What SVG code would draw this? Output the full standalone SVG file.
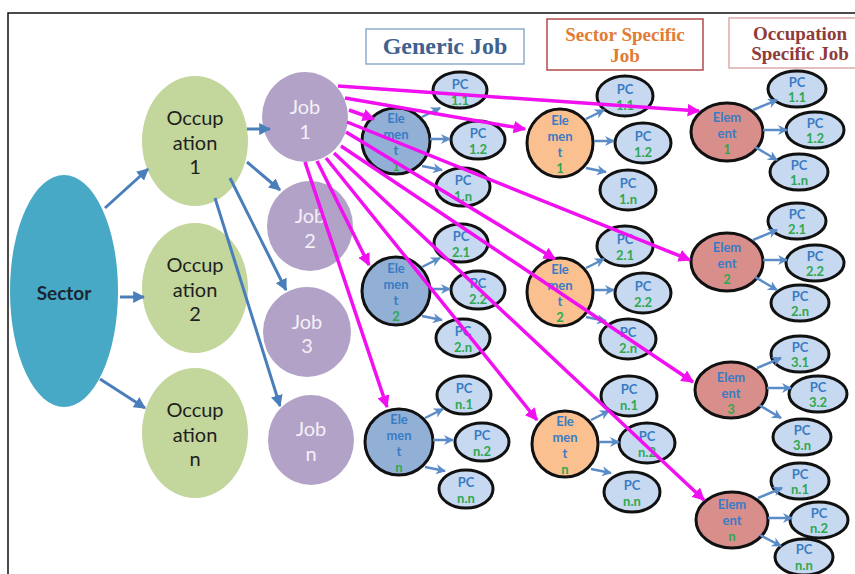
<svg xmlns="http://www.w3.org/2000/svg" width="855" height="574" viewBox="0 0 855 574">
<style>
.frame{fill:none;stroke:#111;stroke-width:1.5}
.sector{fill:#47a9c5}
.occ{fill:#c3d69b}
.job{fill:#b3a2c7}
.e1{fill:#92b0d6;stroke:#111;stroke-width:3}
.e2{fill:#fac090;stroke:#111;stroke-width:3}
.e3{fill:#d88f8c;stroke:#111;stroke-width:3}
.pc{fill:#c6d9f0;stroke:#111;stroke-width:3}
.t{font-family:Lato,"Open Sans","DejaVu Sans",sans-serif;text-anchor:middle;dominant-baseline:central}
.occt{font-size:20px;fill:#1e1e1e}
.jobt{font-size:20px;fill:#f4f0f8}
.sect{font-size:19px;font-weight:bold;fill:#1a2733}
.el{font-size:13px;font-weight:bold;fill:#3a7bc4}
.num{font-size:13px;font-weight:bold;fill:#2fa84f}
.pct{font-size:13px;font-weight:bold;fill:#3a7bc4}
.pcn{font-size:13px;font-weight:bold;fill:#2fa84f}
.hd{font-family:"Liberation Serif","Times New Roman",serif;font-weight:bold;text-anchor:middle}
.blue{stroke:#4a7ebb;stroke-width:3;fill:none;marker-end:url(#ab)}
.small{stroke:#5b8cc8;stroke-width:2.5;fill:none;marker-end:url(#as)}
.mag{stroke:#f010f0;stroke-width:3.5;fill:none;marker-end:url(#am)}
</style>
<defs>
<marker id="ab" viewBox="0 0 10 10" refX="9" refY="5" markerWidth="4" markerHeight="4" orient="auto"><path d="M0,0 L10,5 L0,10 z" fill="#4a7ebb"/></marker>
<marker id="as" viewBox="0 0 10 10" refX="9" refY="5" markerWidth="4" markerHeight="4" orient="auto"><path d="M0,0 L10,5 L0,10 L3,5 z" fill="#5b8cc8"/></marker>
<marker id="am" viewBox="0 0 10 10" refX="9" refY="5" markerWidth="3.6" markerHeight="3.6" orient="auto"><path d="M0,0 L10,5 L0,10 z" fill="#f010f0"/></marker>
</defs>
<rect width="855" height="574" fill="#fff"/>
<path class="frame" d="M8,574 L8,13 L855,13"/>

<g id="header-generic">
<rect x="366" y="29" width="158" height="35" fill="#fff" stroke="#8eaccb" stroke-width="1.5"/>
<text class="hd" x="445" y="54" font-size="24" fill="#41628e">Generic Job</text>
</g>
<g id="header-sector">
<rect x="547" y="19" width="156" height="51" fill="#fff" stroke="#b24a4a" stroke-width="1.5"/>
<text class="hd" x="625" y="41" font-size="19" fill="#e27b33">Sector Specific</text>
<text class="hd" x="625" y="62" font-size="19" fill="#e27b33">Job</text>
</g>
<g id="header-occupation">
<rect x="729" y="18" width="140" height="50" fill="#fff" stroke="#dbaaaa" stroke-width="1.5"/>
<text class="hd" x="800" y="40" font-size="19" fill="#8e3b3a">Occupation</text>
<text class="hd" x="800" y="60" font-size="19" fill="#8e3b3a">Specific Job</text>
</g>

<g id="sector"><ellipse class="sector" cx="64" cy="291" rx="54" ry="116"/><text class="t sect" x="64" y="292">Sector</text></g>

<g id="occupation-1"><ellipse class="occ" cx="195" cy="141" rx="53" ry="65"/><text class="t occt" x="195" y="117">Occup</text><text class="t occt" x="195" y="142">ation</text><text class="t occt" x="195" y="166">1</text></g>
<g id="occupation-2"><ellipse class="occ" cx="195" cy="288" rx="53" ry="65"/><text class="t occt" x="195" y="264">Occup</text><text class="t occt" x="195" y="289">ation</text><text class="t occt" x="195" y="313">2</text></g>
<g id="occupation-n"><ellipse class="occ" cx="195" cy="433" rx="53" ry="65"/><text class="t occt" x="195" y="409">Occup</text><text class="t occt" x="195" y="434">ation</text><text class="t occt" x="195" y="458">n</text></g>

<g id="job-1"><ellipse class="job" cx="305" cy="117" rx="43" ry="45"/><text class="t jobt" x="305" y="106">Job</text><text class="t jobt" x="305" y="131">1</text></g>
<g id="job-2"><ellipse class="job" cx="310" cy="226" rx="43" ry="45"/><text class="t jobt" x="310" y="215">Job</text><text class="t jobt" x="310" y="240">2</text></g>
<g id="job-3"><ellipse class="job" cx="307" cy="332" rx="44" ry="45"/><text class="t jobt" x="307" y="321">Job</text><text class="t jobt" x="307" y="345">3</text></g>
<g id="job-n"><ellipse class="job" cx="311" cy="440" rx="43" ry="45"/><text class="t jobt" x="311" y="428">Job</text><text class="t jobt" x="311" y="453">n</text></g>

<!-- Generic column -->
<g id="g-element-1"><ellipse class="e1" cx="396" cy="141" rx="34" ry="33"/><text class="t el" x="396" y="118">Ele</text><text class="t el" x="396" y="134">men</text><text class="t el" x="396" y="150">t</text><text class="t num" x="396" y="166">1</text></g>
<g id="g-pc-1-1"><ellipse class="pc" cx="460" cy="90" rx="27" ry="18"/><text class="t pct" x="460" y="84">PC</text><text class="t pcn" x="460" y="100">1.1</text></g>
<g id="g-pc-1-2"><ellipse class="pc" cx="478" cy="140" rx="27" ry="19"/><text class="t pct" x="478" y="133">PC</text><text class="t pcn" x="478" y="149">1.2</text></g>
<g id="g-pc-1-n"><ellipse class="pc" cx="463" cy="187" rx="27" ry="19"/><text class="t pct" x="463" y="180">PC</text><text class="t pcn" x="463" y="196">1.n</text></g>

<g id="g-element-2"><ellipse class="e1" cx="396" cy="291" rx="34" ry="34"/><text class="t el" x="396" y="268">Ele</text><text class="t el" x="396" y="284">men</text><text class="t el" x="396" y="300">t</text><text class="t num" x="396" y="316">2</text></g>
<g id="g-pc-2-1"><ellipse class="pc" cx="461" cy="243" rx="27" ry="19"/><text class="t pct" x="461" y="236">PC</text><text class="t pcn" x="461" y="252">2.1</text></g>
<g id="g-pc-2-2"><ellipse class="pc" cx="478" cy="290" rx="27" ry="19"/><text class="t pct" x="478" y="283">PC</text><text class="t pcn" x="478" y="299">2.2</text></g>
<g id="g-pc-2-n"><ellipse class="pc" cx="463" cy="338" rx="27" ry="19"/><text class="t pct" x="463" y="331">PC</text><text class="t pcn" x="463" y="347">2.n</text></g>

<g id="g-element-n"><ellipse class="e1" cx="399" cy="442" rx="34" ry="33"/><text class="t el" x="399" y="419">Ele</text><text class="t el" x="399" y="435">men</text><text class="t el" x="399" y="451">t</text><text class="t num" x="399" y="467">n</text></g>
<g id="g-pc-n-1"><ellipse class="pc" cx="464" cy="395" rx="27" ry="19"/><text class="t pct" x="464" y="388">PC</text><text class="t pcn" x="464" y="404">n.1</text></g>
<g id="g-pc-n-2"><ellipse class="pc" cx="482" cy="442" rx="27" ry="19"/><text class="t pct" x="482" y="435">PC</text><text class="t pcn" x="482" y="451">n.2</text></g>
<g id="g-pc-n-n"><ellipse class="pc" cx="466" cy="489" rx="27" ry="19"/><text class="t pct" x="466" y="482">PC</text><text class="t pcn" x="466" y="498">n.n</text></g>

<!-- Sector specific column -->
<g id="s-element-1"><ellipse class="e2" cx="560" cy="143" rx="33" ry="34"/><text class="t el" x="560" y="120">Ele</text><text class="t el" x="560" y="136">men</text><text class="t el" x="560" y="152">t</text><text class="t num" x="560" y="168">1</text></g>
<g id="s-pc-1-1"><ellipse class="pc" cx="625" cy="96" rx="28" ry="20"/><text class="t pct" x="625" y="89">PC</text><text class="t pcn" x="625" y="105">1.1</text></g>
<g id="s-pc-1-2"><ellipse class="pc" cx="643" cy="143" rx="28" ry="20"/><text class="t pct" x="643" y="136">PC</text><text class="t pcn" x="643" y="152">1.2</text></g>
<g id="s-pc-1-n"><ellipse class="pc" cx="628" cy="190" rx="28" ry="20"/><text class="t pct" x="628" y="183">PC</text><text class="t pcn" x="628" y="199">1.n</text></g>

<g id="s-element-2"><ellipse class="e2" cx="560" cy="292" rx="33" ry="34"/><text class="t el" x="560" y="269">Ele</text><text class="t el" x="560" y="285">men</text><text class="t el" x="560" y="301">t</text><text class="t num" x="560" y="317">2</text></g>
<g id="s-pc-2-1"><ellipse class="pc" cx="625" cy="246" rx="28" ry="20"/><text class="t pct" x="625" y="239">PC</text><text class="t pcn" x="625" y="255">2.1</text></g>
<g id="s-pc-2-2"><ellipse class="pc" cx="643" cy="293" rx="28" ry="20"/><text class="t pct" x="643" y="286">PC</text><text class="t pcn" x="643" y="302">2.2</text></g>
<g id="s-pc-2-n"><ellipse class="pc" cx="628" cy="339" rx="28" ry="20"/><text class="t pct" x="628" y="332">PC</text><text class="t pcn" x="628" y="348">2.n</text></g>

<g id="s-element-n"><ellipse class="e2" cx="565" cy="444" rx="33" ry="33"/><text class="t el" x="565" y="421">Ele</text><text class="t el" x="565" y="437">men</text><text class="t el" x="565" y="453">t</text><text class="t num" x="565" y="469">n</text></g>
<g id="s-pc-n-1"><ellipse class="pc" cx="629" cy="396" rx="28" ry="20"/><text class="t pct" x="629" y="389">PC</text><text class="t pcn" x="629" y="405">n.1</text></g>
<g id="s-pc-n-2"><ellipse class="pc" cx="647" cy="443" rx="28" ry="20"/><text class="t pct" x="647" y="436">PC</text><text class="t pcn" x="647" y="452">n.2</text></g>
<g id="s-pc-n-n"><ellipse class="pc" cx="632" cy="492" rx="28" ry="20"/><text class="t pct" x="632" y="485">PC</text><text class="t pcn" x="632" y="501">n.n</text></g>

<!-- Occupation specific column -->
<g id="o-element-1"><ellipse class="e3" cx="727" cy="132" rx="36" ry="29"/><text class="t el" x="727" y="117">Elem</text><text class="t el" x="727" y="133">ent</text><text class="t num" x="727" y="149">1</text></g>
<g id="o-pc-1-1"><ellipse class="pc" cx="797" cy="89" rx="29" ry="18"/><text class="t pct" x="797" y="82">PC</text><text class="t pcn" x="797" y="97">1.1</text></g>
<g id="o-pc-1-2"><ellipse class="pc" cx="815" cy="130" rx="29" ry="18"/><text class="t pct" x="815" y="123">PC</text><text class="t pcn" x="815" y="138">1.2</text></g>
<g id="o-pc-1-n"><ellipse class="pc" cx="799" cy="172" rx="29" ry="18"/><text class="t pct" x="799" y="165">PC</text><text class="t pcn" x="799" y="180">1.n</text></g>

<g id="o-element-2"><ellipse class="e3" cx="727" cy="262" rx="36" ry="29"/><text class="t el" x="727" y="247">Elem</text><text class="t el" x="727" y="263">ent</text><text class="t num" x="727" y="279">2</text></g>
<g id="o-pc-2-1"><ellipse class="pc" cx="797" cy="221" rx="29" ry="18"/><text class="t pct" x="797" y="214">PC</text><text class="t pcn" x="797" y="229">2.1</text></g>
<g id="o-pc-2-2"><ellipse class="pc" cx="815" cy="263" rx="29" ry="18"/><text class="t pct" x="815" y="256">PC</text><text class="t pcn" x="815" y="271">2.2</text></g>
<g id="o-pc-2-n"><ellipse class="pc" cx="800" cy="303" rx="29" ry="18"/><text class="t pct" x="800" y="296">PC</text><text class="t pcn" x="800" y="311">2.n</text></g>

<g id="o-element-3"><ellipse class="e3" cx="731" cy="390" rx="36" ry="28"/><text class="t el" x="731" y="377">Elem</text><text class="t el" x="731" y="393">ent</text><text class="t num" x="731" y="409">3</text></g>
<g id="o-pc-3-1"><ellipse class="pc" cx="800" cy="354" rx="29" ry="18"/><text class="t pct" x="800" y="347">PC</text><text class="t pcn" x="800" y="362">3.1</text></g>
<g id="o-pc-3-2"><ellipse class="pc" cx="818" cy="394" rx="29" ry="18"/><text class="t pct" x="818" y="387">PC</text><text class="t pcn" x="818" y="402">3.2</text></g>
<g id="o-pc-3-n"><ellipse class="pc" cx="802" cy="437" rx="29" ry="18"/><text class="t pct" x="802" y="430">PC</text><text class="t pcn" x="802" y="445">3.n</text></g>

<g id="o-element-n"><ellipse class="e3" cx="732" cy="520" rx="36" ry="28"/><text class="t el" x="732" y="504">Elem</text><text class="t el" x="732" y="520">ent</text><text class="t num" x="732" y="536">n</text></g>
<g id="o-pc-n-1"><ellipse class="pc" cx="800" cy="481" rx="29" ry="18"/><text class="t pct" x="800" y="474">PC</text><text class="t pcn" x="800" y="489">n.1</text></g>
<g id="o-pc-n-2"><ellipse class="pc" cx="819" cy="520" rx="29" ry="18"/><text class="t pct" x="819" y="513">PC</text><text class="t pcn" x="819" y="528">n.2</text></g>
<g id="o-pc-n-n"><ellipse class="pc" cx="804" cy="557" rx="29" ry="18"/><text class="t pct" x="804" y="549">PC</text><text class="t pcn" x="804" y="565">n.n</text></g>

<g id="connectors">
<path class="blue" d="M105,208 L148,169"/>
<path class="blue" d="M120,297 L144,297"/>
<path class="blue" d="M100,379 L145,408"/>
<path class="blue" d="M247,129 L270,129"/>
<path class="blue" d="M247,162 L280,190"/>
<path class="blue" d="M230,178 L286,290"/>
<path class="blue" d="M215,198 L280,406"/>

<path class="small" d="M422,117 L440,108"/><path class="small" d="M430,139 L450,139"/><path class="small" d="M422,166 L442,170"/>
<path class="small" d="M422,267 L440,258"/><path class="small" d="M430,289 L450,289"/><path class="small" d="M422,316 L442,320"/>
<path class="small" d="M425,418 L443,409"/><path class="small" d="M433,440 L453,440"/><path class="small" d="M425,467 L445,471"/>
<path class="small" d="M586,119 L604,110"/><path class="small" d="M594,141 L614,141"/><path class="small" d="M586,168 L606,172"/>
<path class="small" d="M586,268 L604,259"/><path class="small" d="M594,290 L614,290"/><path class="small" d="M586,317 L606,321"/>
<path class="small" d="M591,420 L609,411"/><path class="small" d="M599,442 L619,442"/><path class="small" d="M591,469 L611,473"/>
<path class="small" d="M753,110 L777,100"/><path class="small" d="M763,130 L787,130"/><path class="small" d="M755,147 L777,160"/>
<path class="small" d="M753,240 L777,230"/><path class="small" d="M763,260 L787,260"/><path class="small" d="M755,277 L777,290"/>
<path class="small" d="M757,368 L781,358"/><path class="small" d="M767,388 L791,388"/><path class="small" d="M759,405 L781,418"/>
<path class="small" d="M758,498 L782,488"/><path class="small" d="M768,518 L792,518"/><path class="small" d="M760,535 L781,546"/>

<path class="mag" d="M338,86 L699,111"/>
<path class="mag" d="M345,98 L525,129"/>
<path class="mag" d="M349,110 L374,119"/>
<path class="mag" d="M347,122 L690,260"/>
<path class="mag" d="M346,132 L555,259"/>
<path class="mag" d="M341,146 L693,382"/>
<path class="mag" d="M334,153 L704,500"/>
<path class="mag" d="M326,158 L537,420"/>
<path class="mag" d="M317,161 L369,265"/>
<path class="mag" d="M305,162 L387,407"/>
</g>
</svg>
